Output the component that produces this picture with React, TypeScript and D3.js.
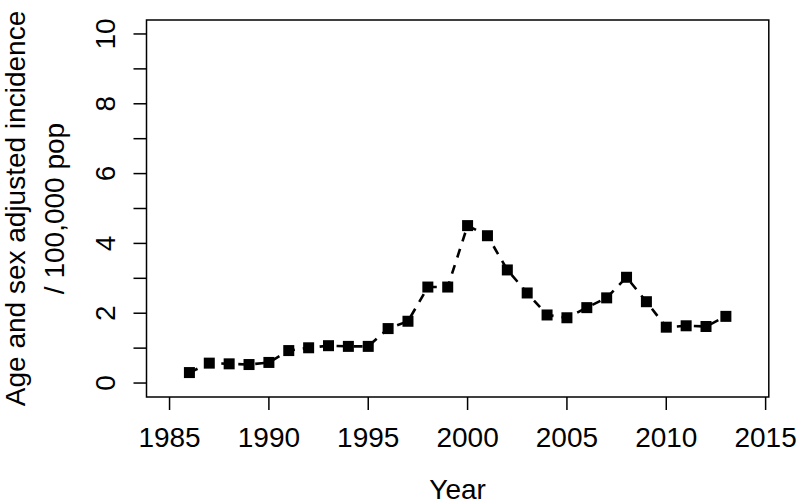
import React from "react";
import * as d3 from "d3";

const years = [1986, 1987, 1988, 1989, 1990, 1991, 1992, 1993, 1994, 1995, 1996, 1997, 1998, 1999, 2000, 2001, 2002, 2003, 2004, 2005, 2006, 2007, 2008, 2009, 2010, 2011, 2012, 2013];
const incidence = [0.30, 0.57, 0.55, 0.53, 0.59, 0.93, 1.01, 1.07, 1.05, 1.05, 1.56, 1.77, 2.75, 2.75, 4.51, 4.22, 3.24, 2.58, 1.95, 1.87, 2.16, 2.44, 3.03, 2.33, 1.60, 1.64, 1.62, 1.91];
const xTicks = [1985, 1990, 1995, 2000, 2005, 2010, 2015];
const yTicks = [0, 1, 2, 3, 4, 5, 6, 7, 8, 9, 10];
const yTickLabels = [0, 2, 4, 6, 8, 10];
const xLabel = "Year";
const yLabelLines = ["Age and sex adjusted incidence", "/ 100,000 pop"];

const W = 800;
const H = 504;
const box = { left: 146.5, right: 768.8, top: 20, bottom: 397 };
const font = "'Liberation Sans', Arial, Helvetica, sans-serif";

export default function App() {
  const x = d3.scaleLinear().domain([1983.84, 2015.16]).range([box.left, box.right]);
  const y = d3.scaleLinear().domain([-0.4, 10.4]).range([box.bottom, box.top]);
  const data = years.map((yr, i) => ({ yr, v: incidence[i] }));
  const line = d3.line<{ yr: number; v: number }>().x((d) => x(d.yr)).y((d) => y(d.v));
  const sq = 11;
  const tickLen = 13;
  const fs = 28;

  return (
    <svg width={W} height={H} style={{ position: "absolute", left: 0, top: 0, background: "#fff" }}>
      <rect x={0} y={0} width={W} height={H} fill="#fff" />
      <rect x={box.left} y={box.top} width={box.right - box.left} height={box.bottom - box.top} fill="none" stroke="#000" strokeWidth={1.5} />
      <path d={line(data) || ""} fill="none" stroke="#000" strokeWidth={2.6} strokeDasharray="9,8" />
      {data.map((d) => (
        <rect key={d.yr} x={x(d.yr) - sq / 2} y={y(d.v) - sq / 2} width={sq} height={sq} fill="#000" />
      ))}
      {xTicks.map((t) => (
        <g key={t}>
          <line x1={x(t)} x2={x(t)} y1={box.bottom} y2={box.bottom + tickLen} stroke="#000" strokeWidth={1.5} />
          <text x={x(t)} y={447} textAnchor="middle" fontFamily={font} fontSize={fs} fill="#000">{t}</text>
        </g>
      ))}
      {yTicks.map((t) => (
        <line key={t} x1={box.left - tickLen} x2={box.left} y1={y(t)} y2={y(t)} stroke="#000" strokeWidth={1.5} />
      ))}
      {yTickLabels.map((t) => (
        <text key={t} transform={`translate(115,${y(t)}) rotate(-90)`} textAnchor="middle" fontFamily={font} fontSize={fs} fill="#000">{t}</text>
      ))}
      <text x={(box.left + box.right) / 2} y={499} textAnchor="middle" fontFamily={font} fontSize={fs} fill="#000">{xLabel}</text>
      {yLabelLines.map((l, i) => (
        <text key={i} transform={`translate(${24.5 + i * 39},${(box.top + box.bottom) / 2}) rotate(-90)`} textAnchor="middle" fontFamily={font} fontSize={fs} fill="#000">{l}</text>
      ))}
    </svg>
  );
}
